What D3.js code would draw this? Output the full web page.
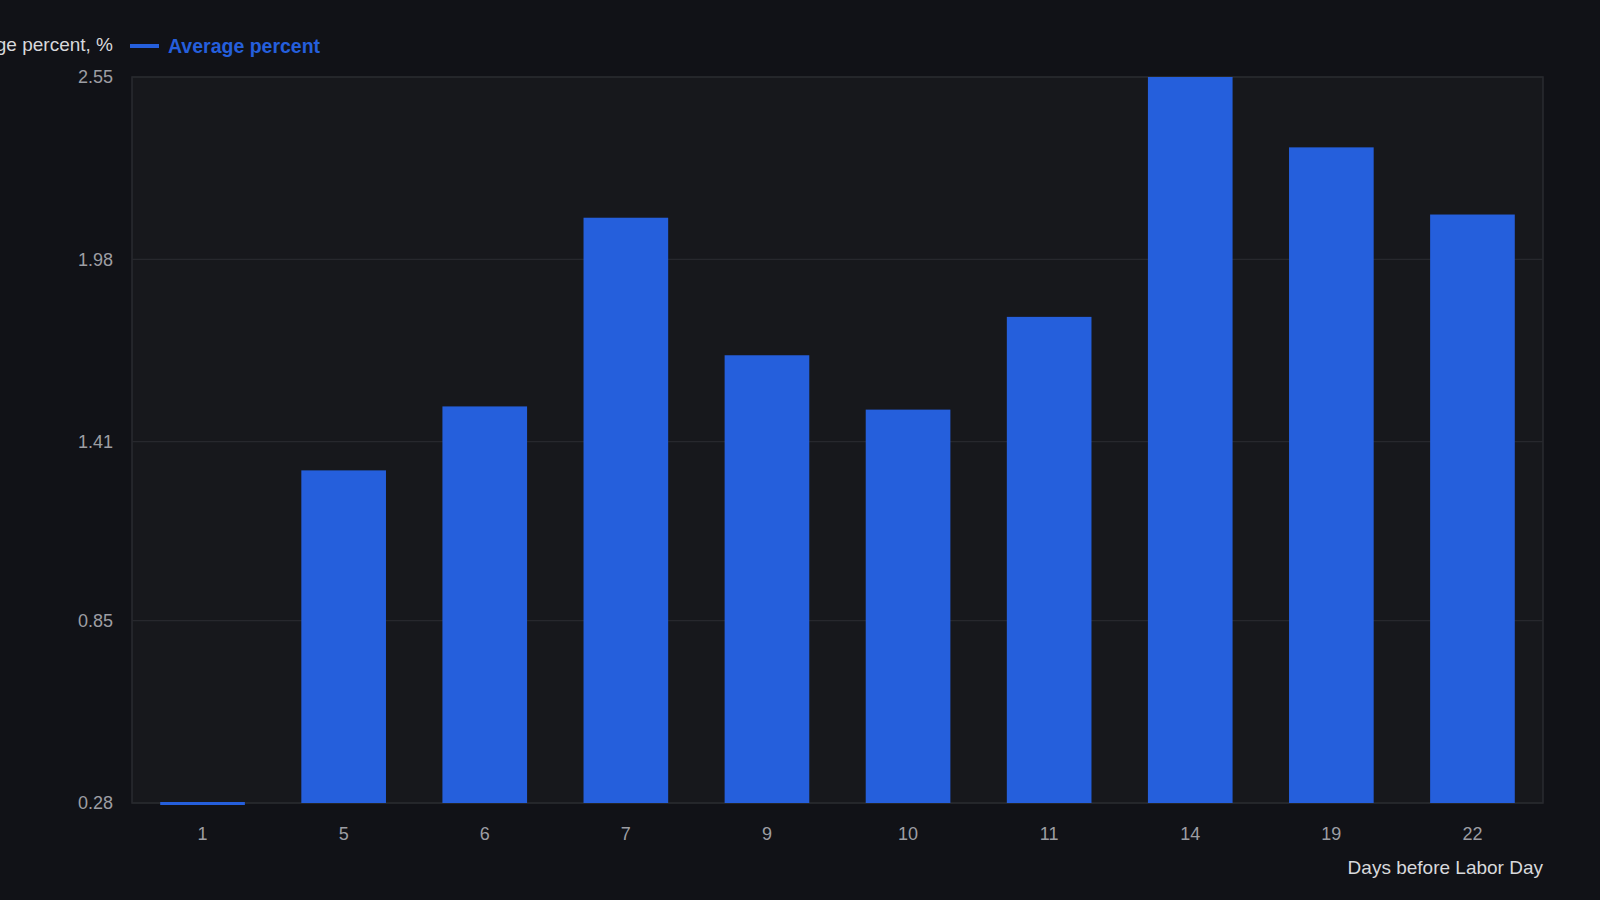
<!DOCTYPE html>
<html>
<head>
<meta charset="utf-8">
<script src="https://cdn.jsdelivr.net/npm/d3@7"></script>
<style>
  html, body { margin: 0; padding: 0; background: #111217; }
  body { width: 1600px; height: 900px; overflow: hidden; font-family: "Liberation Sans", Arial, sans-serif; }
</style>
</head>
<body>
<div class="container"></div>
<script>
// Data
const days = ['1', '5', '6', '7', '9', '10', '11', '14', '19', '22']
const averagePercent = [0.28, 1.32, 1.52, 2.11, 1.68, 1.51, 1.80, 2.55, 2.33, 2.12]
const yTicks = [0.28, 0.85, 1.41, 1.98, 2.55]

const width = 1600
const height = 900
const margin = {"top": 77, "right": 57, "bottom": 97, "left": 132}
const plotW = width - margin.left - margin.right
const plotH = height - margin.top - margin.bottom
const font = '"Liberation Sans", Arial, sans-serif'

const barColor = '#255fdc'

const svg = d3.select(".container")
    .append("svg")
    .attr("width", width)
    .attr("height", height)
    .style("font-family", font)

svg.append("rect")
    .attr("width", width)
    .attr("height", height)
    .attr("fill", "#111217")

const xScale = d3.scaleBand()
    .domain(days)
    .range([0, plotW])
    .paddingInner(0.4)
    .paddingOuter(0.2)

const yScale = d3.scaleLinear()
    .domain([0.28, 2.55])
    .range([plotH, 0])

const plot = svg.append("g")
    .attr("transform", `translate(${margin.left}, ${margin.top})`)

// plot background + border
plot.append("rect")
    .attr("width", plotW)
    .attr("height", plotH)
    .attr("fill", "#17181c")
    .attr("stroke", "#2a2b30")
    .attr("stroke-width", 1.5)

// grid lines
plot.append("g")
    .selectAll("line")
    .data(yTicks)
    .enter()
    .append("line")
        .attr("x1", 0)
        .attr("x2", plotW)
        .attr("y1", d => yScale(d))
        .attr("y2", d => yScale(d))
        .attr("stroke", "#27282d")
        .attr("stroke-width", 1.2)

// bars
plot.append("g")
    .selectAll("rect")
    .data(days.map((d, i) => ({day: d, value: averagePercent[i]})))
    .enter()
    .append("rect")
        .attr("x", d => xScale(d.day))
        .attr("width", xScale.bandwidth())
        .attr("y", d => Math.min(yScale(d.value), plotH - 1))
        .attr("height", d => Math.max(plotH - yScale(d.value), 3))
        .attr("fill", barColor)

// y axis
const yAxis = plot.append("g")
    .attr("id", "y-axis")
    .call(d3.axisLeft(yScale).tickValues(yTicks).tickFormat(d3.format(".2f")).tickSize(0).tickPadding(19))
yAxis.select(".domain").remove()
yAxis.selectAll("text")
    .attr("fill", "#9d9ea3")
    .style("font-size", "18px")
    .style("font-family", font)

// x axis
const xAxis = plot.append("g")
    .attr("id", "x-axis")
    .attr("transform", `translate(0, ${plotH})`)
    .call(d3.axisBottom(xScale).tickSize(0).tickPadding(24))
xAxis.select(".domain").remove()
xAxis.selectAll("text")
    .attr("fill", "#9d9ea3")
    .style("font-size", "18px")
    .style("font-family", font)

// x axis title
svg.append("text")
    .attr("x", margin.left + plotW)
    .attr("y", 874)
    .attr("text-anchor", "end")
    .attr("fill", "#d8d9dc")
    .style("font-size", "19px")
    .text("Days before Labor Day")

// y axis title (cut off on the left in the original)
svg.append("text")
    .attr("x", 113)
    .attr("y", 51)
    .attr("text-anchor", "end")
    .attr("fill", "#d8d9dc")
    .style("font-size", "19px")
    .text("Average percent, %")

// legend
const legend = svg.append("g").attr("id", "legend")
legend.append("line")
    .attr("x1", 130)
    .attr("x2", 159)
    .attr("y1", 46)
    .attr("y2", 46)
    .attr("stroke", barColor)
    .attr("stroke-width", 4)
legend.append("text")
    .attr("x", 168)
    .attr("y", 53)
    .attr("fill", barColor)
    .style("font-size", "19.5px")
    .style("font-weight", "700")
    .text("Average percent")
</script>
</body>
</html>
